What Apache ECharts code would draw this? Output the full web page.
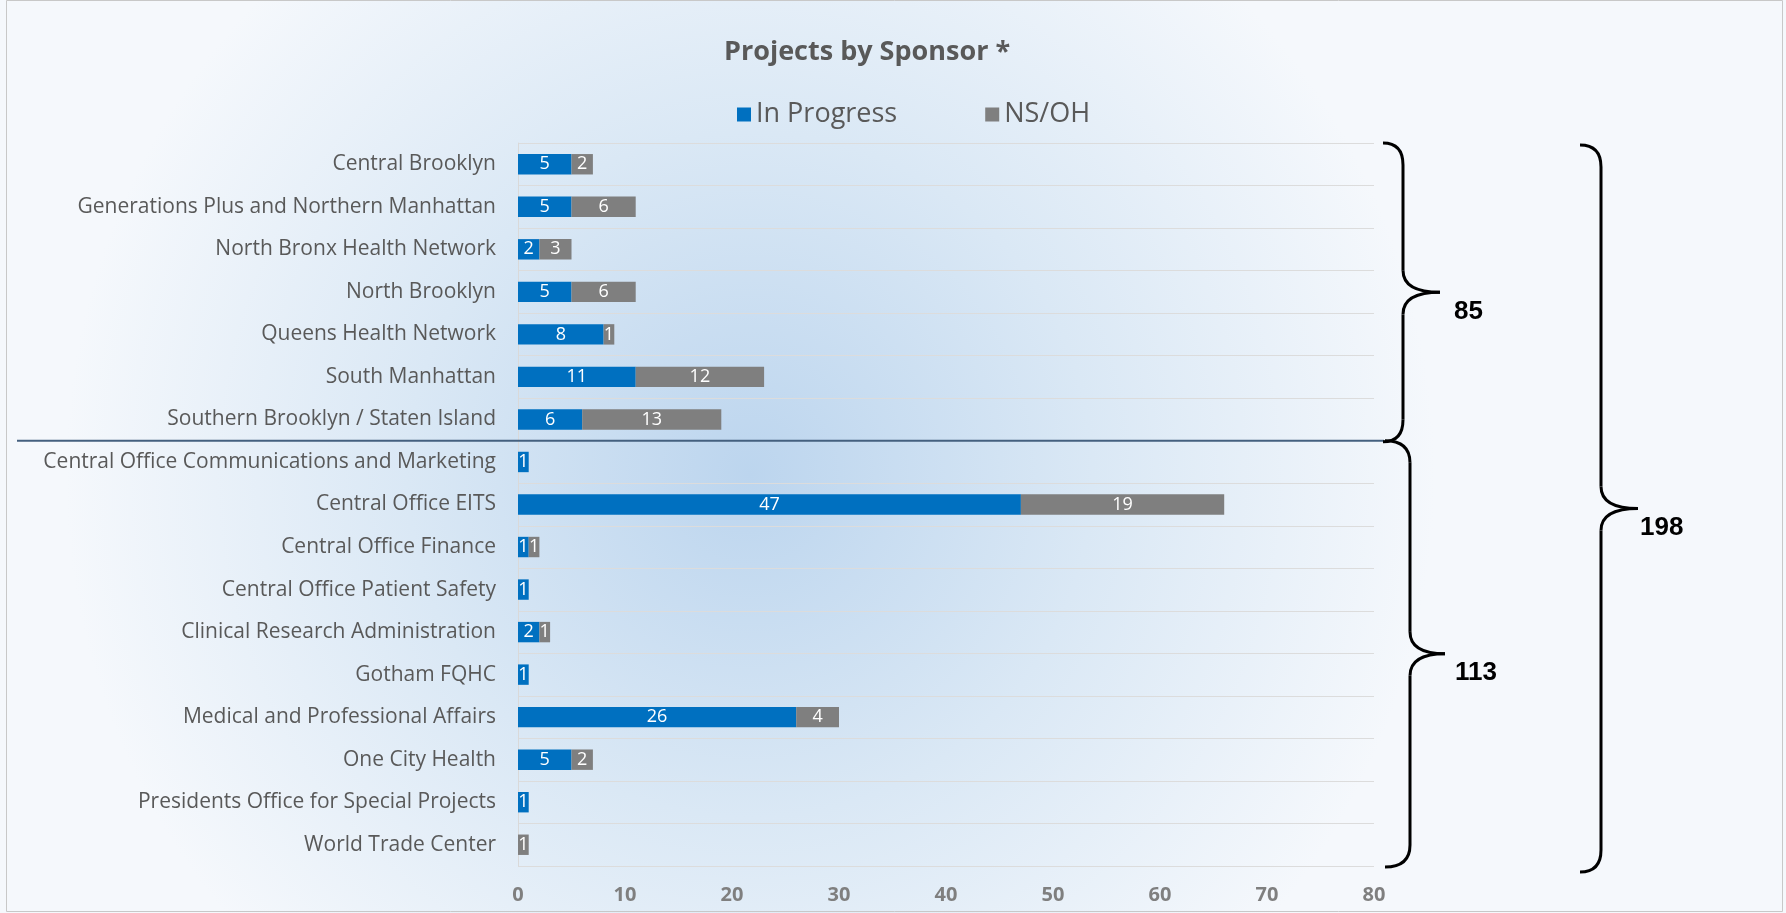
<!DOCTYPE html>
<html>
<head>
<meta charset="utf-8">
<script src="https://cdn.jsdelivr.net/npm/echarts@6/dist/echarts.min.js"></script>
<style>
  html, body {margin: 0; padding: 0; background: #fff;}
  #chart {width: 1786px; height: 913px;}
</style>
</head>
<body>
<div id="chart"></div>
<script>
const sponsors = [
  'Central Brooklyn',
  'Generations Plus and Northern Manhattan',
  'North Bronx Health Network',
  'North Brooklyn',
  'Queens Health Network',
  'South Manhattan',
  'Southern Brooklyn / Staten Island',
  'Central Office Communications and Marketing',
  'Central Office EITS',
  'Central Office Finance',
  'Central Office Patient Safety',
  'Clinical Research Administration',
  'Gotham FQHC',
  'Medical and Professional Affairs',
  'One City Health',
  'Presidents Office for Special Projects',
  'World Trade Center',
]
const inProgress = [5, 5, 2, 5, 8, 11, 6, 1, 47, 1, 1, 2, 1, 26, 5, 1, 0]
const nsOh = [2, 6, 3, 6, 1, 12, 13, 0, 19, 1, 0, 1, 0, 4, 2, 0, 1]
const xTicks = [0, 10, 20, 30, 40, 50, 60, 70, 80]

// first 7 sponsors are facilities, the rest central office
const groupSplit = 7
const sum = arr => arr.reduce((a, b) => a + b, 0)
const total = (from, to) => sum(inProgress.slice(from, to)) + sum(nsOh.slice(from, to))

const blue = '#0070c0'
const gray = '#7f7f7f'
const fontColor = '#595959'
const font = 'Open Sans'

const barLabel = {
  show: true,
  position: 'inside',
  color: '#fff',
  fontFamily: font,
  fontSize: 18,
  formatter: p => (p.value ? p.value : ''),
}

const chart = echarts.init(document.getElementById('chart'))

chart.setOption({
  animation: false,
  title: {
    text: 'Projects by Sponsor *',
    left: 719,
    top: 34,
    textStyle: {fontFamily: font, fontSize: 27, fontWeight: 'bold', color: fontColor},
  },
  legend: {
    left: 732,
    top: 96,
    itemWidth: 14,
    itemHeight: 14,
    itemGap: 88,
    icon: 'rect',
    textStyle: {fontFamily: font, fontSize: 27, color: fontColor},
    data: ['In Progress', 'NS/OH'],
  },
  grid: {left: 518, right: 412, top: 143, bottom: 47},
  xAxis: {
    type: 'value',
    min: 0,
    max: 80,
    interval: 10,
    axisLine: {show: false},
    axisTick: {show: false},
    splitLine: {show: false},
    axisLabel: {
      fontFamily: font, fontSize: 20, fontWeight: 'bold', color: '#7f7f7f', margin: 19,
      formatter: v => (xTicks.includes(v) ? String(v) : ''),
    },
  },
  yAxis: {
    type: 'category',
    inverse: true,
    data: sponsors,
    axisLine: {show: true, lineStyle: {color: '#d9d9d9'}},
    axisTick: {show: false},
    splitLine: {show: true, lineStyle: {color: '#dcdcdc'}},
    axisLabel: {fontFamily: font, fontSize: 21, color: fontColor, margin: 22},
  },
  series: [{
    name: 'In Progress',
    type: 'bar',
    stack: 'all',
    barWidth: '48%',
    itemStyle: {color: blue},
    label: barLabel,
    data: inProgress,
  }, {
    name: 'NS/OH',
    type: 'bar',
    stack: 'all',
    barWidth: '48%',
    itemStyle: {color: gray},
    label: barLabel,
    data: nsOh,
  }],
})

const braceStyle = {stroke: '#000', lineWidth: 3, fill: null}
const numStyle = {fontFamily: 'Liberation Sans', fontSize: 26, fontWeight: 'bold', fill: '#000'}

// curly brace opening to the left, tip pointing right, built from curves and lines
const brace = (xl, xs, xt, y0, y1) => {
  const ym = (y0 + y1) / 2
  const r = 22
  const curve = (x1, y1_, cx, cy, x2, y2) => ({
    type: 'bezierCurve', z: 10, silent: true,
    shape: {x1, y1: y1_, cpx1: cx, cpy1: cy, x2, y2},
    style: braceStyle,
  })
  const line = (a, b) => ({
    type: 'line', z: 10, silent: true,
    shape: {x1: xs, y1: a, x2: xs, y2: b},
    style: braceStyle,
  })
  return [
    curve(xl, y0, xs, y0, xs, y0 + r),
    line(y0 + r, ym - r),
    curve(xs, ym - r, xs, ym, xt, ym),
    curve(xt, ym, xs, ym, xs, ym + r),
    line(ym + r, y1 - r),
    curve(xs, y1 - r, xs, y1, xl, y1),
  ]
}

const yc = i => chart.convertToPixel({yAxisIndex: 0}, sponsors[i])
const band = yc(1) - yc(0)
const yTop = yc(0) - band / 2
const ySep = yc(groupSplit) - band / 2
const yBot = yc(sponsors.length - 1) + band / 2

const braces = [
  {xl: 1383, xs: 1403, xt: 1440, y0: yTop, y1: ySep + 1, text: total(0, groupSplit), dx: 14},
  {xl: 1385, xs: 1410, xt: 1445, y0: ySep, y1: yBot + 1, text: total(groupSplit, sponsors.length), dx: 10},
  {xl: 1580, xs: 1601, xt: 1638, y0: yTop + 2, y1: yBot + 6, text: total(0, sponsors.length), dx: 2},
]

const graphics = [
  {
    type: 'rect', z: -10, silent: true,
    shape: {x: 0, y: 0, width: 1786, height: 913},
    style: {
      fill: {
        type: 'radial', x: 0.42, y: 0.52, r: 0.75,
        colorStops: [
          {offset: 0, color: '#bcd5ee'},
          {offset: 0.5, color: '#dae8f5'},
          {offset: 1, color: '#f5f8fc'},
        ],
      },
    },
  },
  {
    type: 'rect', z: 10, silent: true,
    shape: {x: 6.5, y: 0.5, width: 1776, height: 911},
    style: {fill: null, stroke: '#c8c8c8', lineWidth: 1},
  },
  {
    type: 'line', z: 10, silent: true,
    shape: {x1: 17, y1: ySep, x2: 1384, y2: ySep},
    style: {stroke: '#44607f', lineWidth: 2},
  },
]
braces.forEach(b => {
  graphics.push(...brace(b.xl, b.xs, b.xt, b.y0, b.y1))
  graphics.push({
    type: 'text', z: 10, silent: true,
    x: b.xt + b.dx,
    y: (b.y0 + b.y1) / 2 + 19,
    style: {...numStyle, text: String(b.text), verticalAlign: 'middle'},
  })
})

chart.setOption({graphic: graphics})
</script>
</body>
</html>
